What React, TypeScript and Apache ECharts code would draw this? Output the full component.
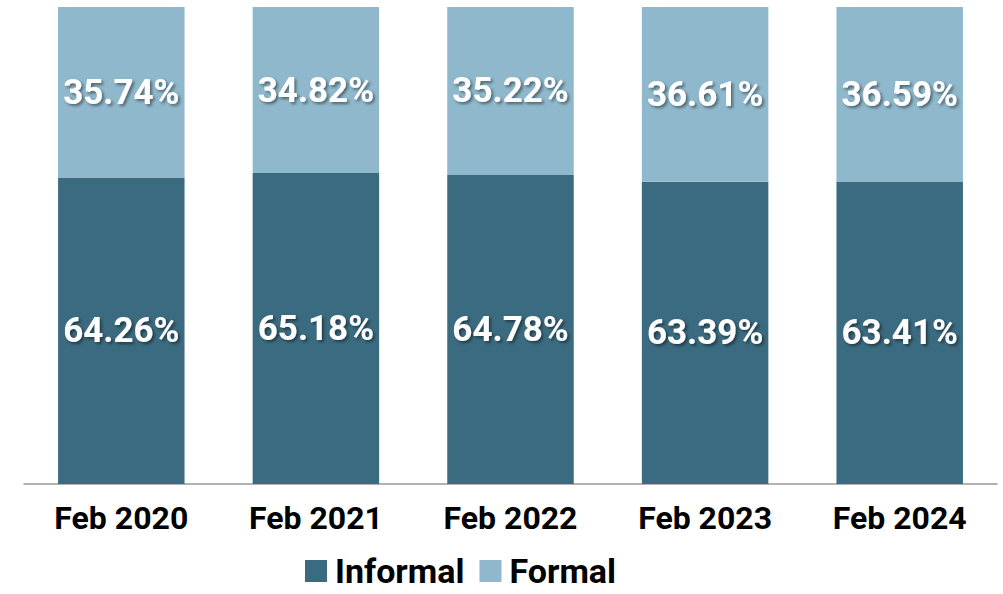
import React, { useEffect, useRef } from "react";
import * as echarts from "echarts";

const categories = ["Feb 2020", "Feb 2021", "Feb 2022", "Feb 2023", "Feb 2024"];
const informal = [64.26, 65.18, 64.78, 63.39, 63.41];
const formal = [35.74, 34.82, 35.22, 36.61, 36.59];

const FONT = "'Liberation Sans Narrow', 'Arial Narrow', Roboto, sans-serif";

export default function App() {
  const ref = useRef<HTMLDivElement>(null);
  useEffect(() => {
    if (!ref.current) return;
    const chart = echarts.init(ref.current, undefined, { renderer: "svg" });
    const label = {
      show: true,
      position: "inside",
      color: "#ffffff",
      fontFamily: FONT,
      fontWeight: "bold",
      fontSize: 35,
      textShadowColor: "rgba(0,0,0,0.45)",
      textShadowBlur: 3,
      textShadowOffsetX: 2,
      textShadowOffsetY: 2,
      formatter: (p: any) => p.value.toFixed(2) + "%",
    };
    chart.setOption({
      animation: false,
      grid: { left: 24, right: 6, top: 7, bottom: 110, containLabel: false },
      legend: {
        left: 305,
        top: 553,
        itemWidth: 22,
        itemHeight: 22,
        itemGap: 15,
        icon: "rect",
        padding: 0,
        textStyle: { fontFamily: FONT, fontSize: 34, lineHeight: 36, color: "#000", fontWeight: "bold", padding: [0, 0, 0, 3] },
        data: ["Informal", "Formal"],
      },
      xAxis: {
        type: "category",
        data: categories,
        axisTick: { show: false },
        axisLine: { lineStyle: { color: "#999999", width: 1.5 } },
        axisLabel: { interval: 0, color: "#000", fontFamily: FONT, fontWeight: "bold", fontSize: 32, margin: 18 },
      },
      yAxis: { type: "value", min: 0, max: 100, show: false, splitLine: { show: false } },
      series: [
        { name: "Informal", type: "bar", stack: "t", data: informal, barWidth: "65%", itemStyle: { color: "#3B6B80" }, label },
        { name: "Formal", type: "bar", stack: "t", data: formal, barWidth: "65%", itemStyle: { color: "#8FB8CC" }, label },
      ],
    });
    return () => chart.dispose();
  }, []);
  return <div ref={ref} style={{ width: 1003, height: 594, position: "absolute", left: 0, top: 0 }} />;
}
